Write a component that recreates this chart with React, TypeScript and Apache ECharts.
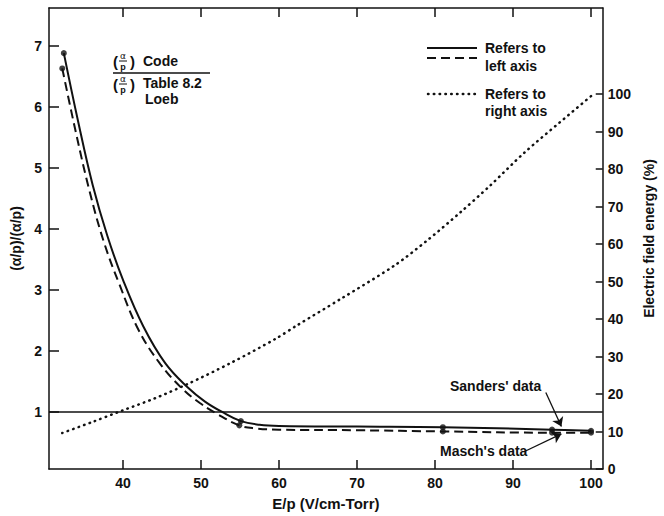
import React, { useEffect, useRef } from 'react';
import * as echarts from 'echarts';

const xTicks = [40, 50, 60, 70, 80, 90, 100];
const leftTicks = [1, 2, 3, 4, 5, 6, 7];
const rightTicks = [0, 10, 20, 30, 40, 50, 60, 70, 80, 90, 100];

// (alpha/p) Code / (alpha/p) Table 8.2 Loeb — solid curve (left axis)
const codeX = [32.4, 34.2, 36.1, 38.0, 40.0, 42.6, 45.4, 48.3, 50.5, 52.7, 55.1, 57.5, 60, 70, 81, 95, 100];
const codeY = [6.88, 5.78, 4.72, 3.88, 3.16, 2.4, 1.8, 1.4, 1.17, 1.0, 0.85, 0.79, 0.77, 0.76, 0.75, 0.71, 0.69];
// dashed curve (left axis)
const tableX = [32.2, 34.0, 35.7, 37.5, 39.5, 42.0, 44.8, 47.6, 49.8, 51.9, 54.9, 57, 60, 70, 81, 95, 100];
const tableY = [6.63, 5.55, 4.62, 3.8, 3.1, 2.34, 1.78, 1.38, 1.15, 0.98, 0.78, 0.73, 0.71, 0.7, 0.68, 0.66, 0.66];
// marked points
const codeMarkX = [32.4, 55.1, 81, 95, 100];
const codeMarkY = [6.88, 0.85, 0.75, 0.71, 0.69];
const tableMarkX = [32.2, 54.9, 81, 95, 100];
const tableMarkY = [6.63, 0.78, 0.68, 0.66, 0.66];
// Electric field energy (%) — dotted curve (right axis)
const energyX = [32.2, 36, 39.9, 44, 48.1, 54, 59.6, 62.2, 68, 74.8, 79, 83.2, 87, 91.5, 96, 100];
const energyY = [9.6, 12.5, 15.6, 18.8, 22.5, 28.5, 34.8, 38.2, 45.5, 54.3, 61, 68.4, 75.5, 84.5, 92.5, 99.5];

const FONT = "'Liberation Sans', Arial, Helvetica, sans-serif";

const zip = (xs: number[], ys: number[]) => xs.map((x, i) => [x, ys[i]]);

export default function App() {
  const ref = useRef<HTMLDivElement>(null);
  useEffect(() => {
    if (!ref.current) return;
    const chart = echarts.init(ref.current, undefined, { renderer: 'svg' });
    const black = '#111';
    const txt = (x: number, y: number, text: string, size = 14, extra: any = {}, weight = 'bold') => ({
      type: 'text',
      x,
      y,
      style: {
        text,
        fill: black,
        font: `${weight} ${size}px ${FONT}`,
        verticalAlign: 'middle',
        align: 'left',
        ...extra,
      },
    });
    const frac = (x: number, y: number) => [
      txt(x, y, '(', 15),
      txt(x + 10, y - 1, 'α', 9, { align: 'center', verticalAlign: 'bottom', font: `normal 9px 'DejaVu Sans', sans-serif` }),
      { type: 'line', shape: { x1: x + 6, y1: y, x2: x + 14, y2: y }, style: { stroke: black, lineWidth: 1 } },
      txt(x + 10, y + 1, 'p', 9, { align: 'center', verticalAlign: 'top' }),
      txt(x + 17, y, ')', 15),
    ];
    const option: any = {
      animation: false,
      backgroundColor: '#fff',
      grid: { left: 49, right: 54, top: 8, bottom: 46 },
      xAxis: [
        {
          type: 'value',
          min: 30.5,
          max: 101.5,
          position: 'bottom',
          name: 'E/p (V/cm-Torr)',
          nameLocation: 'middle',
          nameGap: 27,
          nameTextStyle: { color: black, fontFamily: FONT, fontWeight: 'bold', fontSize: 15 },
          axisLine: { show: true, lineStyle: { color: black, width: 1.5 } },
          axisTick: { show: true, inside: true, length: 9, customValues: xTicks, lineStyle: { color: black, width: 1.5 } },
          axisLabel: { customValues: xTicks, color: black, fontFamily: FONT, fontWeight: 'bold', fontSize: 14, margin: 7 },
          splitLine: { show: false },
        },
        {
          type: 'value',
          min: 30.5,
          max: 101.5,
          position: 'top',
          axisLine: { show: true, lineStyle: { color: black, width: 1.5 } },
          axisTick: { show: true, inside: true, length: 9, customValues: xTicks, lineStyle: { color: black, width: 1.5 } },
          axisLabel: { show: false },
          splitLine: { show: false },
        },
      ],
      yAxis: [
        {
          type: 'value',
          min: 0.065,
          max: 7.62,
          position: 'left',
          name: '(α/p)/(α/p)',
          nameLocation: 'middle',
          nameGap: 25,
          nameRotate: 90,
          nameTextStyle: { color: black, fontFamily: FONT, fontWeight: 'bold', fontSize: 14 },
          axisLine: { show: true, lineStyle: { color: black, width: 1.5 } },
          axisTick: { show: true, inside: true, length: 10, customValues: leftTicks, lineStyle: { color: black, width: 1.5 } },
          axisLabel: { customValues: leftTicks, color: black, fontFamily: FONT, fontWeight: 'bold', fontSize: 14, margin: 7 },
          splitLine: { show: false },
        },
        {
          type: 'value',
          min: 0,
          max: 123,
          position: 'right',
          name: 'Electric field energy (%)',
          nameLocation: 'middle',
          nameGap: 34,
          nameRotate: 90,
          nameTextStyle: { color: black, fontFamily: FONT, fontWeight: 'bold', fontSize: 14 },
          axisLine: { show: true, lineStyle: { color: black, width: 1.5 } },
          axisTick: { show: true, inside: true, length: 7, customValues: rightTicks, lineStyle: { color: black, width: 1.5 } },
          axisLabel: { customValues: rightTicks, color: black, fontFamily: FONT, fontWeight: 'bold', fontSize: 14, margin: 5 },
          splitLine: { show: false },
        },
      ],
      series: [
        {
          type: 'line',
          name: 'code',
          xAxisIndex: 0,
          yAxisIndex: 0,
          data: zip(codeX, codeY),
          smooth: 0.4,
          showSymbol: false,
          lineStyle: { color: black, width: 2 },
          markLine: {
            silent: true,
            symbol: 'none',
            label: { show: false },
            lineStyle: { color: black, width: 1.5, type: 'solid' },
            data: [{ yAxis: 1 }],
          },
        },
        {
          type: 'line',
          name: 'table',
          xAxisIndex: 0,
          yAxisIndex: 0,
          data: zip(tableX, tableY),
          smooth: 0.4,
          showSymbol: false,
          lineStyle: { color: black, width: 2, type: [9, 5] },
          markLine: {
            silent: true,
            symbol: ['none', 'arrow'],
            symbolSize: 9,
            label: { show: false },
            lineStyle: { color: black, width: 1.3, type: 'solid' },
            data: [
              [{ coord: [94.2, 1.32] }, { coord: [96.2, 0.76] }],
              [{ coord: [91.6, 0.36] }, { coord: [96.2, 0.64] }],
            ],
          },
        },
        {
          type: 'line',
          name: 'energy',
          xAxisIndex: 0,
          yAxisIndex: 1,
          data: zip(energyX, energyY),
          smooth: 0.3,
          showSymbol: false,
          lineStyle: { color: black, width: 2.5, type: [0.5, 5.3], cap: 'round' },
        },
        {
          type: 'scatter',
          xAxisIndex: 0,
          yAxisIndex: 0,
          data: zip(codeMarkX, codeMarkY),
          symbol: 'circle',
          symbolSize: 6,
          itemStyle: { color: black },
        },
        {
          type: 'scatter',
          xAxisIndex: 0,
          yAxisIndex: 0,
          data: zip(tableMarkX, tableMarkY),
          symbol: 'circle',
          symbolSize: 6,
          itemStyle: { color: black },
        },
      ],
      graphic: [
        ...frac(113, 61),
        txt(143, 61, 'Code'),
        { type: 'line', shape: { x1: 113, y1: 73, x2: 210, y2: 73 }, style: { stroke: black, lineWidth: 1.5 } },
        ...frac(113, 84),
        txt(143, 83, 'Table 8.2'),
        txt(145, 99, 'Loeb'),
        { type: 'line', shape: { x1: 427, y1: 48, x2: 477, y2: 48 }, style: { stroke: black, lineWidth: 2 } },
        { type: 'line', shape: { x1: 427, y1: 58, x2: 477, y2: 58 }, style: { stroke: black, lineWidth: 2, lineDash: [9, 5] } },
        { type: 'line', shape: { x1: 428, y1: 94, x2: 477, y2: 94 }, style: { stroke: black, lineWidth: 2.5, lineDash: [0.5, 5.3], lineCap: 'round' } },
        txt(485, 48, 'Refers to'),
        txt(485, 66, 'left axis'),
        txt(485, 94, 'Refers to'),
        txt(485, 111, 'right axis'),
        txt(450, 386, "Sanders' data"),
        txt(440, 451, "Masch's data"),
      ],
    };
    chart.setOption(option);
    return () => chart.dispose();
  }, []);
  return (
    <div
      ref={ref}
      style={{ position: 'fixed', left: 0, top: 0, width: 664, height: 516, background: '#fff' }}
    />
  );
}
